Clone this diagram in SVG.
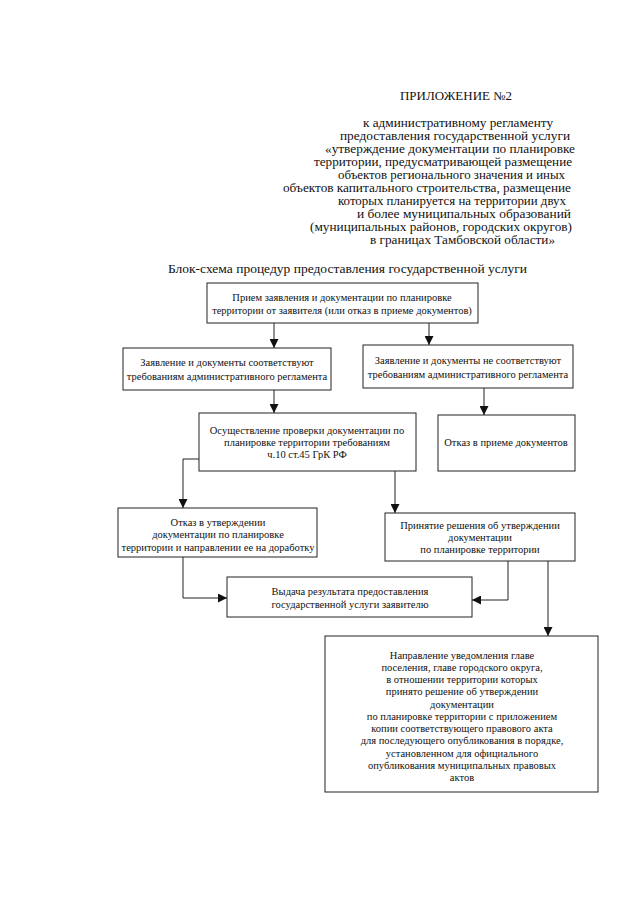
<svg xmlns="http://www.w3.org/2000/svg" width="640" height="905" viewBox="0 0 640 905">
<defs>
<marker id="arr" viewBox="0 0 10 10" refX="10" refY="5" markerWidth="9" markerHeight="9" markerUnits="userSpaceOnUse" orient="auto">
<path d="M0,0 L10,5 L0,10 Z" fill="#111"/>
</marker>
<style>
.hd{font-family:"Liberation Serif","Times New Roman",serif;font-size:12px;fill:#111}
.tt{font-family:"Liberation Serif","Times New Roman",serif;font-size:13.5px;fill:#111}
.nt{font-family:"Liberation Serif","Times New Roman",serif;font-size:10.5px;fill:#111;text-anchor:middle}
.box{fill:#fff;stroke:#222;stroke-width:1}
.con{fill:none;stroke:#222;stroke-width:1;marker-end:url(#arr)}
</style>
</defs>
<rect width="640" height="905" fill="#fff"/>
<g id="header">
<text class="hd" x="400" y="100" font-size="13.5" textLength="112" lengthAdjust="spacingAndGlyphs">ПРИЛОЖЕНИЕ №2</text>
<text class="hd" x="363" y="127" textLength="190" lengthAdjust="spacingAndGlyphs">к административному регламенту</text>
<text class="hd" x="340" y="140" textLength="230" lengthAdjust="spacingAndGlyphs">предоставления государственной услуги</text>
<text class="hd" x="325" y="153" textLength="250" lengthAdjust="spacingAndGlyphs">«утверждение документации по планировке</text>
<text class="hd" x="314" y="166" textLength="258" lengthAdjust="spacingAndGlyphs">территории, предусматривающей размещение</text>
<text class="hd" x="338" y="179" textLength="227" lengthAdjust="spacingAndGlyphs">объектов регионального значения и иных</text>
<text class="hd" x="283" y="192" textLength="288" lengthAdjust="spacingAndGlyphs">объектов капитального строительства, размещение</text>
<text class="hd" x="338" y="205" textLength="228" lengthAdjust="spacingAndGlyphs">которых планируется на территории двух</text>
<text class="hd" x="357" y="218" textLength="214" lengthAdjust="spacingAndGlyphs">и более муниципальных образований</text>
<text class="hd" x="310" y="231" textLength="262" lengthAdjust="spacingAndGlyphs">(муниципальных районов, городских округов)</text>
<text class="hd" x="370" y="244" textLength="185" lengthAdjust="spacingAndGlyphs">в границах Тамбовской области»</text>
</g>
<g id="title">
<text class="tt" x="168" y="273">Блок-схема процедур предоставления государственной услуги</text>
</g>
<g id="connectors">
<path class="con" d="M274,323 V348"/>
<path class="con" d="M429,323 V345"/>
<path class="con" d="M274,390 V413"/>
<path class="con" d="M484,388 V415"/>
<path class="con" d="M199,459 H183 V508"/>
<path class="con" d="M395,471 V513"/>
<path class="con" d="M183,557 V598 H227"/>
<path class="con" d="M508,561 V600 H472"/>
<path class="con" d="M548,561 V636"/>
</g>
<g id="n1">
<rect class="box" x="207" y="283" width="271" height="40"/>
<text class="nt" x="342" y="301">Прием заявления и документации по планировке</text>
<text class="nt" x="342" y="314">территории от заявителя (или отказ в приеме документов)</text>
</g>
<g id="n2">
<rect class="box" x="123" y="348" width="208" height="42"/>
<text class="nt" x="227" y="366">Заявление и документы соответствуют</text>
<text class="nt" x="227" y="380">требованиям административного регламента</text>
</g>
<g id="n3">
<rect class="box" x="363" y="345" width="210" height="43"/>
<text class="nt" x="468" y="364">Заявление и документы не соответствуют</text>
<text class="nt" x="468" y="378">требованиям административного регламента</text>
</g>
<g id="n4">
<rect class="box" x="199" y="413" width="217" height="58"/>
<text class="nt" x="307" y="434">Осуществление проверки документации по</text>
<text class="nt" x="307" y="446">планировке территории требованиям</text>
<text class="nt" x="307" y="458">ч.10 ст.45 ГрК РФ</text>
</g>
<g id="n5">
<rect class="box" x="438" y="415" width="137" height="56"/>
<text class="nt" x="506" y="446">Отказ в приеме документов</text>
</g>
<g id="n6">
<rect class="box" x="118" y="508" width="199" height="49"/>
<text class="nt" x="218" y="526">Отказ в утверждении</text>
<text class="nt" x="218" y="538">документации по планировке</text>
<text class="nt" x="218" y="551">территории и направлении ее на доработку</text>
</g>
<g id="n7">
<rect class="box" x="385" y="513" width="190" height="48"/>
<text class="nt" x="480" y="529">Принятие решения об утверждении</text>
<text class="nt" x="480" y="541">документации</text>
<text class="nt" x="480" y="553">по планировке территории</text>
</g>
<g id="n8">
<rect class="box" x="227" y="577" width="245" height="40"/>
<text class="nt" x="350" y="595">Выдача результата предоставления</text>
<text class="nt" x="350" y="608">государственной услуги заявителю</text>
</g>
<g id="n9">
<rect class="box" x="325" y="636" width="273" height="156"/>
<text class="nt" x="462" y="659">Направление уведомления главе</text>
<text class="nt" x="462" y="671">поселения, главе городского округа,</text>
<text class="nt" x="462" y="683">в отношении территории которых</text>
<text class="nt" x="462" y="695">принято решение об утверждении</text>
<text class="nt" x="462" y="708">документации</text>
<text class="nt" x="462" y="720">по планировке территории с приложением</text>
<text class="nt" x="462" y="732">копии соответствующего правового акта</text>
<text class="nt" x="462" y="744">для последующего опубликования в порядке,</text>
<text class="nt" x="462" y="757">установленном для официального</text>
<text class="nt" x="462" y="769">опубликования муниципальных правовых</text>
<text class="nt" x="462" y="781">актов</text>
</g>
</svg>
